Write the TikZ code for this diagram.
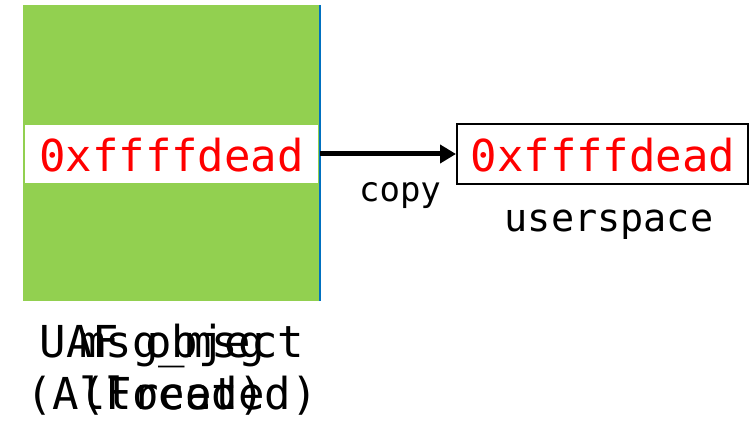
\documentclass[tikz,border=0pt]{standalone}
\usepackage{fontspec}
\setmonofont{DejaVu Sans Mono}
\usetikzlibrary{arrows.meta}
\definecolor{objgreen}{HTML}{92D050}
\definecolor{edgeblue}{HTML}{0070C0}
\definecolor{valred}{HTML}{FF0000}
\tikzset{
  value/.style={font=\ttfamily\fontsize{44}{44}\selectfont, text=valred, inner sep=0pt, anchor=base},
  caption/.style={font=\ttfamily\fontsize{44}{44}\selectfont, inner sep=0pt, anchor=base},
  small/.style={font=\ttfamily\fontsize{34}{34}\selectfont, inner sep=0pt, anchor=base},
}
\begin{document}
\begin{tikzpicture}[x=1pt,y=-1pt]
  \useasboundingbox (0,0) rectangle (754,430);
  % heap object
  \fill[objgreen] (23,5) rectangle (320,301);
  \draw[edgeblue, line width=1.5pt] (320,5) -- (320,301);
  \fill[white] (25,125) rectangle (318,183);
  \node[value] (src) at (171.5,172) {0xffffdead};
  \coordinate (srcedge) at (320,154);
  % userspace buffer
  \node[draw=black, line width=2pt, minimum width=291pt, minimum height=60pt, inner sep=0pt] (dst) at (602.5,154) {};
  \node[value] (dstval) at (603,172) {0xffffdead};
  \draw[line width=5pt, -{Triangle[length=16pt,width=18pt]}] (srcedge) -- (dst.west);
  \node[small] (cp) at (400,202) {copy};
  \node[small, font=\ttfamily\fontsize{38.5}{38.5}\selectfont] (us) at (609,232) {userspace};
  % overlapping captions
  \node[caption] (uaf) at (172,357) {UAF object};
  \node[caption] (uafstate) at (172,409) {(Allocated)};
  \node[caption] (msg) at (172,357) {msg\_msg};
  \node[caption] (msgstate) at (172,409) {(Freed)};
\end{tikzpicture}
\end{document}
